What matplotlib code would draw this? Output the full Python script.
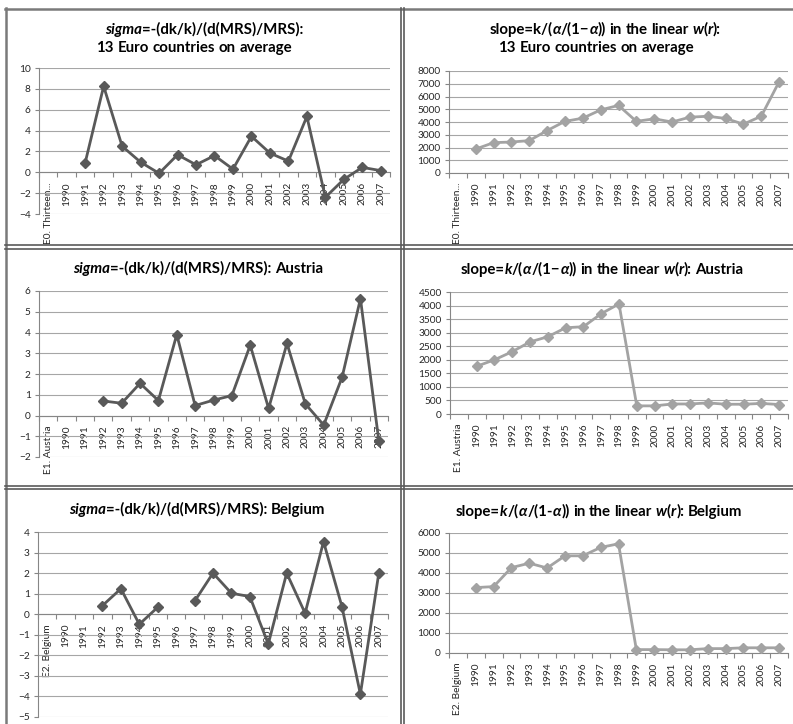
import numpy as np
import matplotlib
matplotlib.use("Agg")
import matplotlib.pyplot as plt
from matplotlib.lines import Line2D
from matplotlib.transforms import IdentityTransform

plt.rcParams['font.family'] = ['Lato', 'DejaVu Sans']

W, H = 793, 724
nan = np.nan

years = [str(y) for y in range(1990, 2008)]
cats_euro = ["E0. Thirteen..."] + years
cats_austria = ["E1. Austria"] + years
cats_belgium = ["E2. Belgium"] + years

# elasticity of substitution (sigma)
sigma_euro = [nan, nan, 0.92, 8.25, 2.5, 0.97, -0.1, 1.68, 0.72, 1.6, 0.3,
              3.45, 1.84, 1.07, 5.35, -2.4, -0.68, 0.47, 0.16]
sigma_austria = [nan, nan, nan, 0.7, 0.59, 1.55, 0.72, 3.9, 0.48, 0.74, 0.96,
                 3.39, 0.34, 3.47, 0.56, -0.46, 1.84, 5.63, -1.22]
sigma_belgium = [nan, nan, nan, 0.42, 1.24, -0.49, 0.34, nan, 0.63, 2.0, 1.02,
                 0.86, -1.45, 2.0, 0.05, 3.53, 0.37, -3.89, 2.0]

# slope of the linear wage-profit curve
slope_euro = [nan, 1880, 2380, 2430, 2540, 3330, 4050, 4300, 4950, 5300, 4050,
              4250, 4000, 4380, 4450, 4280, 3830, 4450, 7150]
slope_austria = [nan, 1760, 2000, 2300, 2660, 2850, 3180, 3220, 3700, 4060, 300,
                 300, 370, 370, 410, 360, 360, 390, 350]
slope_belgium = [nan, 3270, 3320, 4270, 4490, 4250, 4860, 4860, 5280, 5460, 170,
                 170, 160, 160, 220, 220, 260, 260, 260]

SIGMA_COLOR = '#595959'
SLOPE_COLOR = '#a3a3a3'
AXIS_COLOR = '#868686'
GRID_COLOR = '#a6a6a6'
TEXT_COLOR = '#262626'

fig = plt.figure(figsize=(W / 100, H / 100), dpi=100)


def add_panel(x0, y0, x1, y1):
    # box given in pixels from the top-left corner
    return fig.add_axes([x0 / W, 1 - y1 / H, (x1 - x0) / W, (y1 - y0) / H])


def draw_series(ax, cats, values, ymin, ymax, step, color):
    x = np.arange(len(cats))
    ax.plot(x, values, color=color, lw=2.0, marker='D', ms=5.5,
            mec=color, mfc=color, zorder=3, clip_on=False)
    ax.set_xlim(-0.5, len(cats) - 0.5)
    ax.set_ylim(ymin, ymax)
    ax.set_yticks(np.arange(ymin, ymax + step / 2, step))
    ax.set_xticks(x)
    ax.set_xticklabels(cats)
    ax.set_xticks(np.arange(len(cats) + 1) - 0.5, minor=True)
    ax.tick_params(axis='x', which='major', length=0, pad=7, labelsize=7.3,
                   labelcolor=TEXT_COLOR, labelrotation=90)
    ax.tick_params(axis='x', which='minor', length=3.5, width=0.8,
                   color=AXIS_COLOR, direction='out')
    ax.tick_params(axis='y', length=3, width=0.8, color=AXIS_COLOR,
                   labelsize=7.3, labelcolor=TEXT_COLOR, pad=3)
    ax.yaxis.grid(True, color=GRID_COLOR, lw=0.8)
    ax.set_axisbelow(True)
    for s in ('top', 'right'):
        ax.spines[s].set_visible(False)
    for s in ('left', 'bottom'):
        ax.spines[s].set_color(AXIS_COLOR)
        ax.spines[s].set_linewidth(0.8)
    ax.spines['bottom'].set_position(('data', 0))
    ax.patch.set_alpha(0)


def rich_line(cx, baseline, parts, size=10.8):
    # title line made of upright / italic bold pieces, centred on cx
    r = fig.canvas.get_renderer()
    probe = fig.text(0, 0, "x x", fontsize=size, fontweight='bold')
    probe2 = fig.text(0, 0, "xx", fontsize=size, fontweight='bold')
    space = (probe.get_window_extent(r).width
             - probe2.get_window_extent(r).width)
    probe.remove()
    probe2.remove()
    pieces = []
    for text, italic in parts:
        words = text.split(' ')
        for i, w in enumerate(words):
            if i > 0:
                pieces.append((None, False))
            if w:
                pieces.append((w, italic))
    arts, total = [], 0
    for w, italic in pieces:
        if w is None:
            arts.append((None, space))
            total += space
            continue
        t = fig.text(0, H - baseline, w, fontsize=size, fontweight='bold',
                     fontstyle='italic' if italic else 'normal',
                     transform=IdentityTransform(), va='baseline',
                     ha='left', color='#000000')
        wd = t.get_window_extent(r).width
        arts.append((t, wd))
        total += wd
    xpos = cx - total / 2
    for t, wd in arts:
        if t is not None:
            t.set_x(xpos)
        xpos += wd


# top row: 13 Euro countries on average
ax1 = add_panel(39, 68, 390, 214)
draw_series(ax1, cats_euro, sigma_euro, -4, 10, 2, SIGMA_COLOR)
rich_line(204, 34, [("sigma", True), ("=-(dk/k)/(d(MRS)/MRS):", False)])
rich_line(194, 52, [("13 Euro countries on average", False)])

ax2 = add_panel(449, 71, 788, 173)
draw_series(ax2, cats_euro, slope_euro, 0, 8000, 1000, SLOPE_COLOR)
rich_line(605, 34, [("slope=k/(", False), ("\u03b1", True), ("/(1\u2212", False),
                    ("\u03b1", True), (")) in the linear ", False), ("w", True),
                    ("(", False), ("r", True), ("):", False)])
rich_line(596, 52, [("13 Euro countries on average", False)])

# middle row: Austria
ax3 = add_panel(39, 291, 388, 457)
draw_series(ax3, cats_austria, sigma_austria, -2, 6, 1, SIGMA_COLOR)
rich_line(198, 273, [("sigma", True), ("=-(dk/k)/(d(MRS)/MRS): Austria", False)])

ax4 = add_panel(450, 292, 788, 414)
draw_series(ax4, cats_austria, slope_austria, 0, 4500, 500, SLOPE_COLOR)
rich_line(602, 274, [("slope=", False), ("k", True), ("/(", False), ("\u03b1", True),
                     ("/(1\u2212", False), ("\u03b1", True),
                     (")) in the linear ", False), ("w", True), ("(", False),
                     ("r", True), ("): Austria", False)])

# bottom row: Belgium
ax5 = add_panel(38, 532, 388, 717)
draw_series(ax5, cats_belgium, sigma_belgium, -5, 4, 1, SIGMA_COLOR)
rich_line(197, 514, [("sigma", True), ("=-(dk/k)/(d(MRS)/MRS): Belgium", False)])

ax6 = add_panel(449, 533, 788, 653)
draw_series(ax6, cats_belgium, slope_belgium, 0, 6000, 1000, SLOPE_COLOR)
rich_line(599, 516, [("slope=", False), ("k", True), ("/(", False), ("\u03b1", True),
                     ("/(1-", False), ("\u03b1", True),
                     (")) in the linear ", False), ("w", True), ("(", False),
                     ("r", True), ("): Belgium", False)])


# table frame around the six charts
def hline(y, x0, x1, lw=1.2, color='#5a5a5a'):
    fig.add_artist(Line2D([x0 / W, x1 / W], [1 - y / H, 1 - y / H],
                          transform=fig.transFigure, color=color, lw=lw))


def vline(x, y0, y1, lw=1.2, color='#5a5a5a'):
    fig.add_artist(Line2D([x / W, x / W], [1 - y0 / H, 1 - y1 / H],
                          transform=fig.transFigure, color=color, lw=lw))


hline(8.5, 5, W, lw=1.8, color='#7a7a7a')
vline(5.5, 8, H, lw=1.8, color='#7a7a7a')
for y in (245.5, 249.0, 485.5, 489.0):
    hline(y, 5, W)
for x in (400.8, 403.8):
    vline(x, 8, H)

fig.savefig("out.png", dpi=100)
